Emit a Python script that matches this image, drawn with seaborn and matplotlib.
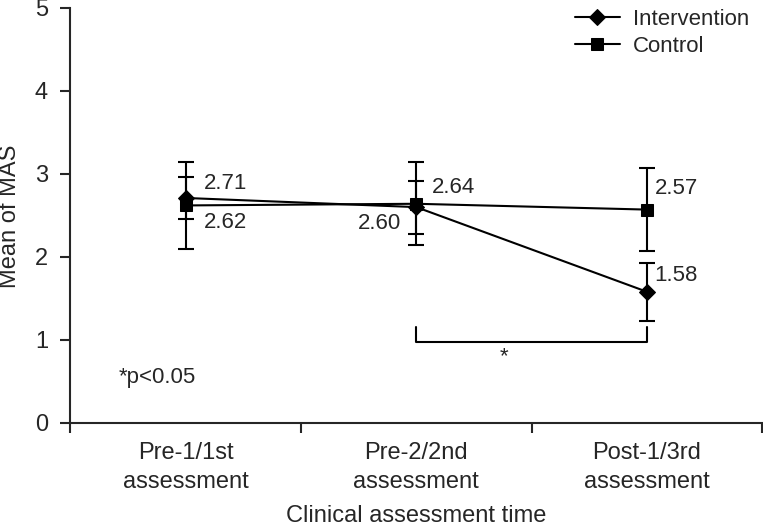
import numpy as np
import pandas as pd
import seaborn as sns
import matplotlib.pyplot as plt

categories = ["Pre-1/1st\nassessment", "Pre-2/2nd\nassessment", "Post-1/3rd\nassessment"]
intervention_mean = [2.71, 2.60, 1.58]
intervention_sd = [0.25, 0.32, 0.35]
control_mean = [2.62, 2.64, 2.57]
control_sd = [0.52, 0.50, 0.50]

sns.set_style("ticks")
plt.rcParams['font.family'] = ['Liberation Sans', 'DejaVu Sans']

df = pd.DataFrame({
  "time": list(range(3)) * 2,
  "mean": intervention_mean + control_mean,
  "group": ["Intervention"] * 3 + ["Control"] * 3,
})

fig = plt.figure(figsize=(7.63, 5.26), dpi=100)
ax = fig.add_axes([0.092, 0.196, 0.907, 0.789])

# error bars first so markers sit on top
ax.errorbar(range(3), intervention_mean, yerr=intervention_sd, fmt="none", ecolor="black", elinewidth=1.5, capsize=6, capthick=1.5, zorder=2)
ax.errorbar(range(3), control_mean, yerr=control_sd, fmt="none", ecolor="black", elinewidth=1.5, capsize=6, capthick=1.5, zorder=2)

sns.lineplot(data=df, x="time", y="mean", hue="group", style="group", markers={"Intervention": "D", "Control": "s"},
             dashes=False, palette={"Intervention": "black", "Control": "black"}, markersize=8, linewidth=1.5,
             markeredgecolor="black", ax=ax, zorder=3, sort=False)

# value labels
fs = 16
ax.text(0.08, intervention_mean[0] + 0.17, "%.2f" % intervention_mean[0], fontsize=fs, ha="left", va="center")
ax.text(0.08, control_mean[0] - 0.2, "%.2f" % control_mean[0], fontsize=fs, ha="left", va="center")
ax.text(0.935, intervention_mean[1] - 0.2, "%.2f" % intervention_mean[1], fontsize=fs, ha="right", va="center")
ax.text(1.07, control_mean[1] + 0.2, "%.2f" % control_mean[1], fontsize=fs, ha="left", va="center")
ax.text(2.035, control_mean[2] + 0.26, "%.2f" % control_mean[2], fontsize=fs, ha="left", va="center")
ax.text(2.03, intervention_mean[2] + 0.2, "%.2f" % intervention_mean[2], fontsize=fs, ha="left", va="center")

# significance bracket
ax.plot([1, 1, 2, 2], [1.16, 0.98, 0.98, 1.16], color="black", linewidth=1.5)
ax.text(1.38, 0.8, "*", fontsize=fs, ha="center", va="center")
ax.text(-0.29, 0.55, "*p<0.05", fontsize=fs, ha="left", va="center")

ax.set_xlim(-0.5, 2.5)
ax.set_ylim(0, 5)
ax.set_yticks([0, 1, 2, 3, 4, 5])
ax.set_xticks([0, 1, 2])
ax.set_xticklabels(categories, fontsize=17, linespacing=1.4)
ax.set_xticks([-0.5, 0.5, 1.5, 2.5], minor=True)
ax.tick_params(axis="x", which="major", length=0, pad=14)
ax.tick_params(axis="x", which="minor", length=7, width=1.5, direction="out")
ax.tick_params(axis="y", length=7, width=1.5, labelsize=17, pad=9)
for s in ["top", "right"]:
  ax.spines[s].set_visible(False)
for s in ["left", "bottom"]:
  ax.spines[s].set_linewidth(1.5)

ax.set_xlabel("")
ax.set_ylabel("")
fig.text(416 / 763, 1 - 522 / 526, "Clinical assessment time", fontsize=17, ha="center", va="baseline")
fig.text(10 / 763, 1 - 216 / 526, "Mean of MAS", fontsize=17, ha="center", va="center", rotation=90)

ax.legend(loc="upper right", bbox_to_anchor=(1.01, 1.045), frameon=False, fontsize=fs, handlelength=2,
          handletextpad=0.6, labelspacing=0.25, title=None)

plt.savefig("out.png", dpi=100)
